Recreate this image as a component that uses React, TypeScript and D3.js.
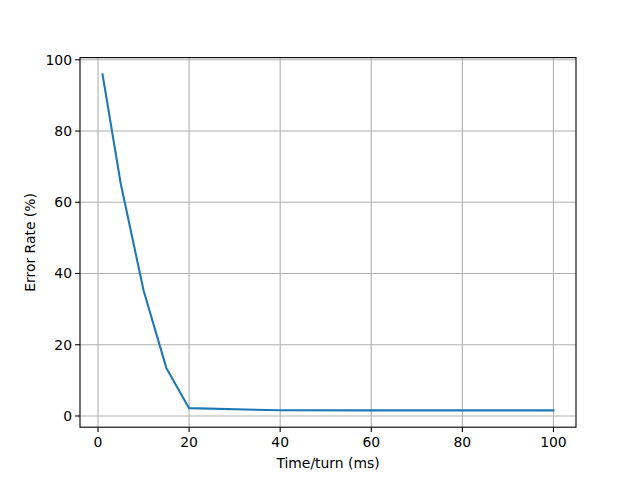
import React from "react";
import * as d3 from "d3";

const xValues = [1, 5, 10, 15, 20, 40, 60, 80, 100];
const errorRates = [95.9, 65.2, 35.3, 13.5, 2.2, 1.6, 1.57, 1.57, 1.57];
const xTicks = [0, 20, 40, 60, 80, 100];
const yTicks = [0, 20, 40, 60, 80, 100];

export default function App() {
  const W = 640, H = 480;
  const left = 80, right = 576, top = 57.6, bottom = 427.2;
  const xMin = d3.min(xValues)!, xMax = d3.max(xValues)!;
  const yMin = d3.min(errorRates)!, yMax = d3.max(errorRates)!;
  const xm = (xMax - xMin) * 0.05, ym = (yMax - yMin) * 0.05;
  const x = d3.scaleLinear().domain([xMin - xm, xMax + xm]).range([left, right]);
  const y = d3.scaleLinear().domain([yMin - ym, yMax + ym]).range([bottom, top]);
  const line = d3.line<number>().x((_, i) => x(xValues[i])).y((d) => y(d));
  const font = "DejaVu Sans, sans-serif";
  const fs = 13.9;
  return (
    <svg width={W} height={H} style={{ display: "block", position: "absolute", left: 0, top: 0 }}>
      <rect width={W} height={H} fill="#fff" />
      {xTicks.map((t) => (
        <line key={"gx" + t} x1={x(t)} x2={x(t)} y1={top} y2={bottom} stroke="#b0b0b0" strokeWidth={1.1} />
      ))}
      {yTicks.map((t) => (
        <line key={"gy" + t} x1={left} x2={right} y1={y(t)} y2={y(t)} stroke="#b0b0b0" strokeWidth={1.1} />
      ))}
      <path d={line(errorRates) || ""} fill="none" stroke="#1f77b4" strokeWidth={2.08} strokeLinejoin="round" strokeLinecap="square" />
      <rect x={left} y={top} width={right - left} height={bottom - top} fill="none" stroke="#000" strokeWidth={1.1} />
      {xTicks.map((t) => (
        <g key={"tx" + t}>
          <line x1={x(t)} x2={x(t)} y1={bottom} y2={bottom + 4.86} stroke="#000" strokeWidth={1.1} />
          <text x={x(t)} y={bottom + 20} textAnchor="middle" fontFamily={font} fontSize={fs}>{t}</text>
        </g>
      ))}
      {yTicks.map((t) => (
        <g key={"ty" + t}>
          <line x1={left - 4.86} x2={left} y1={y(t)} y2={y(t)} stroke="#000" strokeWidth={1.1} />
          <text x={left - 8} y={y(t)} dy="0.35em" textAnchor="end" fontFamily={font} fontSize={fs}>{t}</text>
        </g>
      ))}
      <text x={(left + right) / 2} y={468} textAnchor="middle" fontFamily={font} fontSize={fs}>Time/turn (ms)</text>
      <text transform={`translate(35,${(top + bottom) / 2}) rotate(-90)`} textAnchor="middle" fontFamily={font} fontSize={fs}>Error Rate (%)</text>
    </svg>
  );
}
